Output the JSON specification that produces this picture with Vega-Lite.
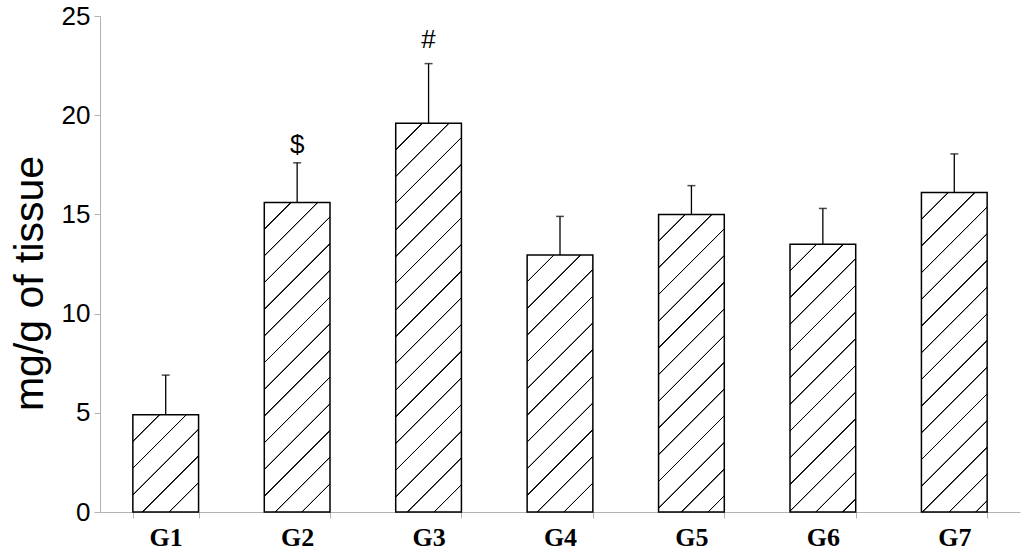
{
  "$schema": "https://vega.github.io/schema/vega-lite/v6.json",
  "width": 920,
  "height": 496,
  "autosize": {"type": "none"},
  "padding": {"left": 100, "top": 16, "right": 3, "bottom": 40},
  "background": "white",
  "config": {"view": {"stroke": null}},
  "data": {
    "values": [
      {"g": "G1", "mean": 4.9, "upper": 6.9, "sig": ""},
      {"g": "G2", "mean": 15.6, "upper": 17.6, "sig": "$"},
      {"g": "G3", "mean": 19.6, "upper": 22.6, "sig": "#"},
      {"g": "G4", "mean": 12.95, "upper": 14.9, "sig": ""},
      {"g": "G5", "mean": 15.0, "upper": 16.45, "sig": ""},
      {"g": "G6", "mean": 13.5, "upper": 15.3, "sig": ""},
      {"g": "G7", "mean": 16.1, "upper": 18.05, "sig": ""}
    ]
  },
  "encoding": {
    "x": {
      "field": "g",
      "type": "nominal",
      "sort": null,
      "scale": {"paddingInner": 0.5, "paddingOuter": 0.25},
      "axis": {
        "title": null,
        "labelAngle": 0,
        "labelFont": "Liberation Serif",
        "labelFontWeight": "bold",
        "labelFontSize": 26,
        "labelColor": "black",
        "labelPadding": 6,
        "domainColor": "#b3b3b3",
        "domainWidth": 1,
        "tickColor": "#b3b3b3",
        "tickSize": 6,
        "tickBand": "extent",
        "grid": false
      }
    }
  },
  "layer": [
    {
      "mark": {"type": "bar", "stroke": "black", "strokeWidth": 1.5},
      "encoding": {
        "y": {
          "field": "mean",
          "type": "quantitative",
          "scale": {"domain": [0, 25], "nice": false},
          "axis": {
            "values": [0, 5, 10, 15, 20, 25],
            "title": "mg/g of tissue",
            "titleFont": "Liberation Sans",
            "titleFontSize": 41,
            "titleFontWeight": "normal",
            "titleColor": "black",
            "titleAngle": -90,
            "titleX": -70,
            "titleY": 267,
            "titleAlign": "center",
            "titleBaseline": "middle",
            "labelFont": "Liberation Sans",
            "labelFontSize": 26,
            "labelColor": "black",
            "labelPadding": 4,
            "domainColor": "#b3b3b3",
            "tickColor": "#b3b3b3",
            "tickSize": 6,
            "grid": false
          }
        },
        "fill": {
          "condition": [
            {"test": "datum.g === 'G1'", "value": {"gradient": "linear", "x1": 0, "y1": 0, "x2": 0.7775, "y2": 1.1504, "stops": [
              {"offset": 0.1577, "color": "white"}, {"offset": 0.1611, "color": "black"}, {"offset": 0.1666, "color": "black"}, {"offset": 0.1700, "color": "white"},
              {"offset": 0.3216, "color": "white"}, {"offset": 0.3250, "color": "black"}, {"offset": 0.3305, "color": "black"}, {"offset": 0.3339, "color": "white"},
              {"offset": 0.4855, "color": "white"}, {"offset": 0.4889, "color": "black"}, {"offset": 0.4944, "color": "black"}, {"offset": 0.4978, "color": "white"},
              {"offset": 0.6494, "color": "white"}, {"offset": 0.6527, "color": "black"}, {"offset": 0.6583, "color": "black"}, {"offset": 0.6616, "color": "white"},
              {"offset": 0.8132, "color": "white"}, {"offset": 0.8166, "color": "black"}, {"offset": 0.8221, "color": "black"}, {"offset": 0.8255, "color": "white"}
            ]}},
            {"test": "datum.g === 'G2'", "value": {"gradient": "linear", "x1": 0, "y1": 0, "x2": 0.24628, "y2": 1.16002, "stops": [
              {"offset": 0.0685, "color": "white"}, {"offset": 0.0700, "color": "black"}, {"offset": 0.0724, "color": "black"}, {"offset": 0.0738, "color": "white"},
              {"offset": 0.1397, "color": "white"}, {"offset": 0.1411, "color": "black"}, {"offset": 0.1435, "color": "black"}, {"offset": 0.1450, "color": "white"},
              {"offset": 0.2108, "color": "white"}, {"offset": 0.2123, "color": "black"}, {"offset": 0.2147, "color": "black"}, {"offset": 0.2162, "color": "white"},
              {"offset": 0.2820, "color": "white"}, {"offset": 0.2834, "color": "black"}, {"offset": 0.2858, "color": "black"}, {"offset": 0.2873, "color": "white"},
              {"offset": 0.3531, "color": "white"}, {"offset": 0.3546, "color": "black"}, {"offset": 0.3570, "color": "black"}, {"offset": 0.3585, "color": "white"},
              {"offset": 0.4243, "color": "white"}, {"offset": 0.4258, "color": "black"}, {"offset": 0.4282, "color": "black"}, {"offset": 0.4296, "color": "white"},
              {"offset": 0.4955, "color": "white"}, {"offset": 0.4969, "color": "black"}, {"offset": 0.4993, "color": "black"}, {"offset": 0.5008, "color": "white"},
              {"offset": 0.5666, "color": "white"}, {"offset": 0.5681, "color": "black"}, {"offset": 0.5705, "color": "black"}, {"offset": 0.5720, "color": "white"},
              {"offset": 0.6378, "color": "white"}, {"offset": 0.6392, "color": "black"}, {"offset": 0.6416, "color": "black"}, {"offset": 0.6431, "color": "white"},
              {"offset": 0.7089, "color": "white"}, {"offset": 0.7104, "color": "black"}, {"offset": 0.7128, "color": "black"}, {"offset": 0.7143, "color": "white"},
              {"offset": 0.7801, "color": "white"}, {"offset": 0.7816, "color": "black"}, {"offset": 0.7840, "color": "black"}, {"offset": 0.7854, "color": "white"},
              {"offset": 0.8513, "color": "white"}, {"offset": 0.8527, "color": "black"}, {"offset": 0.8551, "color": "black"}, {"offset": 0.8566, "color": "white"},
              {"offset": 0.9224, "color": "white"}, {"offset": 0.9239, "color": "black"}, {"offset": 0.9263, "color": "black"}, {"offset": 0.9278, "color": "white"}
            ]}},
            {"test": "datum.g === 'G3'", "value": {"gradient": "linear", "x1": 0, "y1": 0, "x2": 0.19205, "y2": 1.13653, "stops": [
              {"offset": 0.0565, "color": "white"}, {"offset": 0.0577, "color": "black"}, {"offset": 0.0597, "color": "black"}, {"offset": 0.0609, "color": "white"},
              {"offset": 0.1153, "color": "white"}, {"offset": 0.1165, "color": "black"}, {"offset": 0.1185, "color": "black"}, {"offset": 0.1197, "color": "white"},
              {"offset": 0.1740, "color": "white"}, {"offset": 0.1752, "color": "black"}, {"offset": 0.1772, "color": "black"}, {"offset": 0.1784, "color": "white"},
              {"offset": 0.2327, "color": "white"}, {"offset": 0.2340, "color": "black"}, {"offset": 0.2359, "color": "black"}, {"offset": 0.2371, "color": "white"},
              {"offset": 0.2915, "color": "white"}, {"offset": 0.2927, "color": "black"}, {"offset": 0.2947, "color": "black"}, {"offset": 0.2959, "color": "white"},
              {"offset": 0.3502, "color": "white"}, {"offset": 0.3514, "color": "black"}, {"offset": 0.3534, "color": "black"}, {"offset": 0.3546, "color": "white"},
              {"offset": 0.4090, "color": "white"}, {"offset": 0.4102, "color": "black"}, {"offset": 0.4121, "color": "black"}, {"offset": 0.4134, "color": "white"},
              {"offset": 0.4677, "color": "white"}, {"offset": 0.4689, "color": "black"}, {"offset": 0.4709, "color": "black"}, {"offset": 0.4721, "color": "white"},
              {"offset": 0.5264, "color": "white"}, {"offset": 0.5276, "color": "black"}, {"offset": 0.5296, "color": "black"}, {"offset": 0.5308, "color": "white"},
              {"offset": 0.5852, "color": "white"}, {"offset": 0.5864, "color": "black"}, {"offset": 0.5884, "color": "black"}, {"offset": 0.5896, "color": "white"},
              {"offset": 0.6439, "color": "white"}, {"offset": 0.6451, "color": "black"}, {"offset": 0.6471, "color": "black"}, {"offset": 0.6483, "color": "white"},
              {"offset": 0.7026, "color": "white"}, {"offset": 0.7039, "color": "black"}, {"offset": 0.7058, "color": "black"}, {"offset": 0.7070, "color": "white"},
              {"offset": 0.7614, "color": "white"}, {"offset": 0.7626, "color": "black"}, {"offset": 0.7646, "color": "black"}, {"offset": 0.7658, "color": "white"},
              {"offset": 0.8201, "color": "white"}, {"offset": 0.8213, "color": "black"}, {"offset": 0.8233, "color": "black"}, {"offset": 0.8245, "color": "white"},
              {"offset": 0.8789, "color": "white"}, {"offset": 0.8801, "color": "black"}, {"offset": 0.8820, "color": "black"}, {"offset": 0.8833, "color": "white"},
              {"offset": 0.9376, "color": "white"}, {"offset": 0.9388, "color": "black"}, {"offset": 0.9408, "color": "black"}, {"offset": 0.9420, "color": "white"}
            ]}},
            {"test": "datum.g === 'G4'", "value": {"gradient": "linear", "x1": 0, "y1": 0, "x2": 0.30144, "y2": 1.17866, "stops": [
              {"offset": 0.0797, "color": "white"}, {"offset": 0.0814, "color": "black"}, {"offset": 0.0841, "color": "black"}, {"offset": 0.0859, "color": "white"},
              {"offset": 0.1624, "color": "white"}, {"offset": 0.1641, "color": "black"}, {"offset": 0.1669, "color": "black"}, {"offset": 0.1686, "color": "white"},
              {"offset": 0.2452, "color": "white"}, {"offset": 0.2469, "color": "black"}, {"offset": 0.2497, "color": "black"}, {"offset": 0.2514, "color": "white"},
              {"offset": 0.3279, "color": "white"}, {"offset": 0.3296, "color": "black"}, {"offset": 0.3324, "color": "black"}, {"offset": 0.3341, "color": "white"},
              {"offset": 0.4107, "color": "white"}, {"offset": 0.4124, "color": "black"}, {"offset": 0.4152, "color": "black"}, {"offset": 0.4169, "color": "white"},
              {"offset": 0.4934, "color": "white"}, {"offset": 0.4951, "color": "black"}, {"offset": 0.4979, "color": "black"}, {"offset": 0.4996, "color": "white"},
              {"offset": 0.5762, "color": "white"}, {"offset": 0.5779, "color": "black"}, {"offset": 0.5807, "color": "black"}, {"offset": 0.5824, "color": "white"},
              {"offset": 0.6589, "color": "white"}, {"offset": 0.6607, "color": "black"}, {"offset": 0.6634, "color": "black"}, {"offset": 0.6651, "color": "white"},
              {"offset": 0.7417, "color": "white"}, {"offset": 0.7434, "color": "black"}, {"offset": 0.7462, "color": "black"}, {"offset": 0.7479, "color": "white"},
              {"offset": 0.8245, "color": "white"}, {"offset": 0.8262, "color": "black"}, {"offset": 0.8289, "color": "black"}, {"offset": 0.8307, "color": "white"},
              {"offset": 0.9072, "color": "white"}, {"offset": 0.9089, "color": "black"}, {"offset": 0.9117, "color": "black"}, {"offset": 0.9134, "color": "white"}
            ]}},
            {"test": "datum.g === 'G5'", "value": {"gradient": "linear", "x1": 0, "y1": 0, "x2": 0.25702, "y2": 1.16405, "stops": [
              {"offset": 0.0707, "color": "white"}, {"offset": 0.0723, "color": "black"}, {"offset": 0.0747, "color": "black"}, {"offset": 0.0762, "color": "white"},
              {"offset": 0.1442, "color": "white"}, {"offset": 0.1457, "color": "black"}, {"offset": 0.1482, "color": "black"}, {"offset": 0.1497, "color": "white"},
              {"offset": 0.2177, "color": "white"}, {"offset": 0.2192, "color": "black"}, {"offset": 0.2217, "color": "black"}, {"offset": 0.2232, "color": "white"},
              {"offset": 0.2912, "color": "white"}, {"offset": 0.2927, "color": "black"}, {"offset": 0.2952, "color": "black"}, {"offset": 0.2967, "color": "white"},
              {"offset": 0.3647, "color": "white"}, {"offset": 0.3662, "color": "black"}, {"offset": 0.3687, "color": "black"}, {"offset": 0.3702, "color": "white"},
              {"offset": 0.4382, "color": "white"}, {"offset": 0.4397, "color": "black"}, {"offset": 0.4422, "color": "black"}, {"offset": 0.4437, "color": "white"},
              {"offset": 0.5117, "color": "white"}, {"offset": 0.5132, "color": "black"}, {"offset": 0.5157, "color": "black"}, {"offset": 0.5172, "color": "white"},
              {"offset": 0.5852, "color": "white"}, {"offset": 0.5867, "color": "black"}, {"offset": 0.5892, "color": "black"}, {"offset": 0.5907, "color": "white"},
              {"offset": 0.6587, "color": "white"}, {"offset": 0.6602, "color": "black"}, {"offset": 0.6627, "color": "black"}, {"offset": 0.6642, "color": "white"},
              {"offset": 0.7322, "color": "white"}, {"offset": 0.7337, "color": "black"}, {"offset": 0.7362, "color": "black"}, {"offset": 0.7377, "color": "white"},
              {"offset": 0.8057, "color": "white"}, {"offset": 0.8072, "color": "black"}, {"offset": 0.8097, "color": "black"}, {"offset": 0.8112, "color": "white"},
              {"offset": 0.8792, "color": "white"}, {"offset": 0.8807, "color": "black"}, {"offset": 0.8831, "color": "black"}, {"offset": 0.8847, "color": "white"},
              {"offset": 0.9526, "color": "white"}, {"offset": 0.9542, "color": "black"}, {"offset": 0.9566, "color": "black"}, {"offset": 0.9581, "color": "white"}
            ]}},
            {"test": "datum.g === 'G6'", "value": {"gradient": "linear", "x1": 0, "y1": 0, "x2": 0.28818, "y2": 1.17463, "stops": [
              {"offset": 0.0770, "color": "white"}, {"offset": 0.0787, "color": "black"}, {"offset": 0.0814, "color": "black"}, {"offset": 0.0830, "color": "white"},
              {"offset": 0.1571, "color": "white"}, {"offset": 0.1587, "color": "black"}, {"offset": 0.1614, "color": "black"}, {"offset": 0.1631, "color": "white"},
              {"offset": 0.2371, "color": "white"}, {"offset": 0.2388, "color": "black"}, {"offset": 0.2415, "color": "black"}, {"offset": 0.2431, "color": "white"},
              {"offset": 0.3172, "color": "white"}, {"offset": 0.3188, "color": "black"}, {"offset": 0.3215, "color": "black"}, {"offset": 0.3232, "color": "white"},
              {"offset": 0.3972, "color": "white"}, {"offset": 0.3989, "color": "black"}, {"offset": 0.4016, "color": "black"}, {"offset": 0.4032, "color": "white"},
              {"offset": 0.4773, "color": "white"}, {"offset": 0.4789, "color": "black"}, {"offset": 0.4816, "color": "black"}, {"offset": 0.4833, "color": "white"},
              {"offset": 0.5573, "color": "white"}, {"offset": 0.5590, "color": "black"}, {"offset": 0.5617, "color": "black"}, {"offset": 0.5633, "color": "white"},
              {"offset": 0.6374, "color": "white"}, {"offset": 0.6390, "color": "black"}, {"offset": 0.6417, "color": "black"}, {"offset": 0.6434, "color": "white"},
              {"offset": 0.7174, "color": "white"}, {"offset": 0.7191, "color": "black"}, {"offset": 0.7218, "color": "black"}, {"offset": 0.7234, "color": "white"},
              {"offset": 0.7975, "color": "white"}, {"offset": 0.7991, "color": "black"}, {"offset": 0.8018, "color": "black"}, {"offset": 0.8035, "color": "white"},
              {"offset": 0.8775, "color": "white"}, {"offset": 0.8792, "color": "black"}, {"offset": 0.8819, "color": "black"}, {"offset": 0.8835, "color": "white"},
              {"offset": 0.9576, "color": "white"}, {"offset": 0.9592, "color": "black"}, {"offset": 0.9619, "color": "black"}, {"offset": 0.9636, "color": "white"}
            ]}},
            {"test": "datum.g === 'G7'", "value": {"gradient": "linear", "x1": 0, "y1": 0, "x2": 0.23797, "y2": 1.15676, "stops": [
              {"offset": 0.0667, "color": "white"}, {"offset": 0.0682, "color": "black"}, {"offset": 0.0705, "color": "black"}, {"offset": 0.0719, "color": "white"},
              {"offset": 0.1361, "color": "white"}, {"offset": 0.1375, "color": "black"}, {"offset": 0.1398, "color": "black"}, {"offset": 0.1413, "color": "white"},
              {"offset": 0.2054, "color": "white"}, {"offset": 0.2068, "color": "black"}, {"offset": 0.2092, "color": "black"}, {"offset": 0.2106, "color": "white"},
              {"offset": 0.2747, "color": "white"}, {"offset": 0.2761, "color": "black"}, {"offset": 0.2785, "color": "black"}, {"offset": 0.2799, "color": "white"},
              {"offset": 0.3440, "color": "white"}, {"offset": 0.3455, "color": "black"}, {"offset": 0.3478, "color": "black"}, {"offset": 0.3492, "color": "white"},
              {"offset": 0.4134, "color": "white"}, {"offset": 0.4148, "color": "black"}, {"offset": 0.4171, "color": "black"}, {"offset": 0.4186, "color": "white"},
              {"offset": 0.4827, "color": "white"}, {"offset": 0.4841, "color": "black"}, {"offset": 0.4865, "color": "black"}, {"offset": 0.4879, "color": "white"},
              {"offset": 0.5520, "color": "white"}, {"offset": 0.5534, "color": "black"}, {"offset": 0.5558, "color": "black"}, {"offset": 0.5572, "color": "white"},
              {"offset": 0.6213, "color": "white"}, {"offset": 0.6228, "color": "black"}, {"offset": 0.6251, "color": "black"}, {"offset": 0.6265, "color": "white"},
              {"offset": 0.6907, "color": "white"}, {"offset": 0.6921, "color": "black"}, {"offset": 0.6944, "color": "black"}, {"offset": 0.6959, "color": "white"},
              {"offset": 0.7600, "color": "white"}, {"offset": 0.7614, "color": "black"}, {"offset": 0.7638, "color": "black"}, {"offset": 0.7652, "color": "white"},
              {"offset": 0.8293, "color": "white"}, {"offset": 0.8308, "color": "black"}, {"offset": 0.8331, "color": "black"}, {"offset": 0.8345, "color": "white"},
              {"offset": 0.8987, "color": "white"}, {"offset": 0.9001, "color": "black"}, {"offset": 0.9024, "color": "black"}, {"offset": 0.9039, "color": "white"},
              {"offset": 0.9680, "color": "white"}, {"offset": 0.9694, "color": "black"}, {"offset": 0.9717, "color": "black"}, {"offset": 0.9732, "color": "white"}
            ]}}
          ],
          "value": "white"
        }
      }
    },
    {
      "mark": {"type": "rule", "color": "black", "strokeWidth": 1.3},
      "encoding": {
        "y": {"field": "mean", "type": "quantitative"},
        "y2": {"field": "upper"}
      }
    },
    {
      "mark": {"type": "tick", "color": "black", "size": 8, "thickness": 1.5, "orient": "horizontal"},
      "encoding": {
        "y": {"field": "upper", "type": "quantitative"}
      }
    },
    {
      "transform": [{"filter": "datum.sig === '$'"}],
      "mark": {"type": "text", "font": "Liberation Sans", "fontSize": 26, "color": "black", "baseline": "alphabetic", "dy": -10},
      "encoding": {
        "y": {"field": "upper", "type": "quantitative"},
        "text": {"field": "sig"}
      }
    },
    {
      "transform": [{"filter": "datum.sig === '#'"}],
      "mark": {"type": "text", "font": "Liberation Sans", "fontSize": 26, "color": "black", "baseline": "alphabetic", "dy": -16},
      "encoding": {
        "y": {"field": "upper", "type": "quantitative"},
        "text": {"field": "sig"}
      }
    }
  ]
}
